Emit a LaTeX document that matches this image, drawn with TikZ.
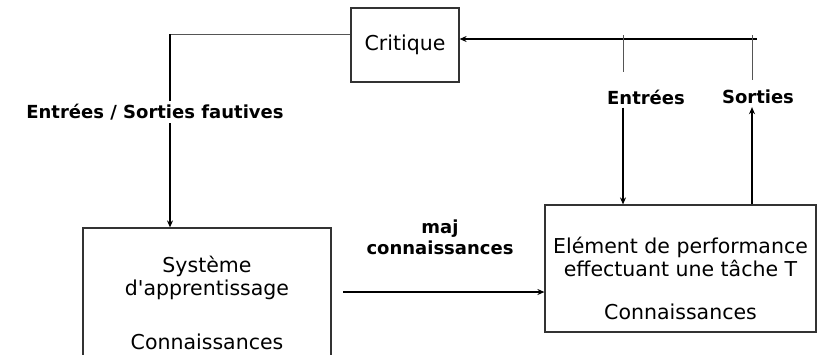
\documentclass[tikz,border=0pt]{standalone}
\usepackage{fontspec}
\setmainfont{DejaVu Sans}[Ligatures=TeXOff]
\usetikzlibrary{arrows.meta, positioning, backgrounds, calc}
\definecolor{boxgray}{HTML}{333333}
\definecolor{tapgray}{HTML}{555555}

\begin{document}
\begin{tikzpicture}[
    x=1pt, y=-1pt,
    box/.style={draw=boxgray, line width=1.2pt, inner sep=0pt},
    txt/.style={font=\fontsize{20.5}{23}\selectfont, align=center, inner sep=0pt},
    lbl/.style={font=\fontsize{18}{21}\selectfont\bfseries, align=center, fill=white, inner sep=3pt},
    wire/.style={line width=1.8pt},
    tap/.style={tapgray, line width=1pt},
    >={Stealth[length=7pt, width=6pt]},
  ]
  \useasboundingbox (0,0) rectangle (819,354);

  % Critic box
  \node[box, txt, minimum width=108pt, minimum height=74pt] (crit) at (405,45) {Critique};

  % Learning system (runs off the bottom edge)
  \node[box, minimum width=248pt, minimum height=150pt] (sys) at (207,303) {};
  \node[txt] (sysname) at (207,278) {Système\\d'apprentissage};
  \node[txt] (sysknow) at (207,342) {Connaissances};

  % Performance element
  \node[box, minimum width=271pt, minimum height=127pt] (perf) at (680.5,268.5) {};
  \node[txt] (perfname) at (680.5,257) {Elément de performance\\effectuant une tâche T};
  \node[txt] (perfknow) at (680.5,312) {Connaissances};

  % Labels on the wires
  \node[lbl] (fautes) at (155,112) {Entrées / Sorties fautives};
  \node[lbl] (maj) at (440,237) {maj\\connaissances};
  \node[lbl] (ent) at (646,97) {Entrées};
  \node[lbl] (sort) at (758,97) {Sorties};

  \coordinate (critout) at (351,34);
  \coordinate (turn) at (170,34);
  \coordinate (feed) at (757,39);
  \coordinate (e1) at (623,35);
  \coordinate (s1) at (752,35);
  \coordinate (majout) at (343,292);

  \begin{scope}[on background layer]
    % critic back to the learner
    \draw[tap] (critout) -- (turn);
    \draw[wire, ->] (turn) -- (turn |- sys.north);
    % inputs and outputs to the critic
    \draw[wire, ->] (feed) -- (crit.east |- feed);
    \draw[tap] (e1) -- ++(0,37);
    \draw[tap] (s1) -- ++(0,45);
    \draw[wire, ->] (e1 |- ent.south) -- (e1 |- perf.north);
    \draw[wire, ->] (s1 |- perf.north) -- (s1 |- sort.south);
    % update
    \draw[wire, ->] (majout) -- (perf.west |- majout);
  \end{scope}
\end{tikzpicture}
\end{document}
